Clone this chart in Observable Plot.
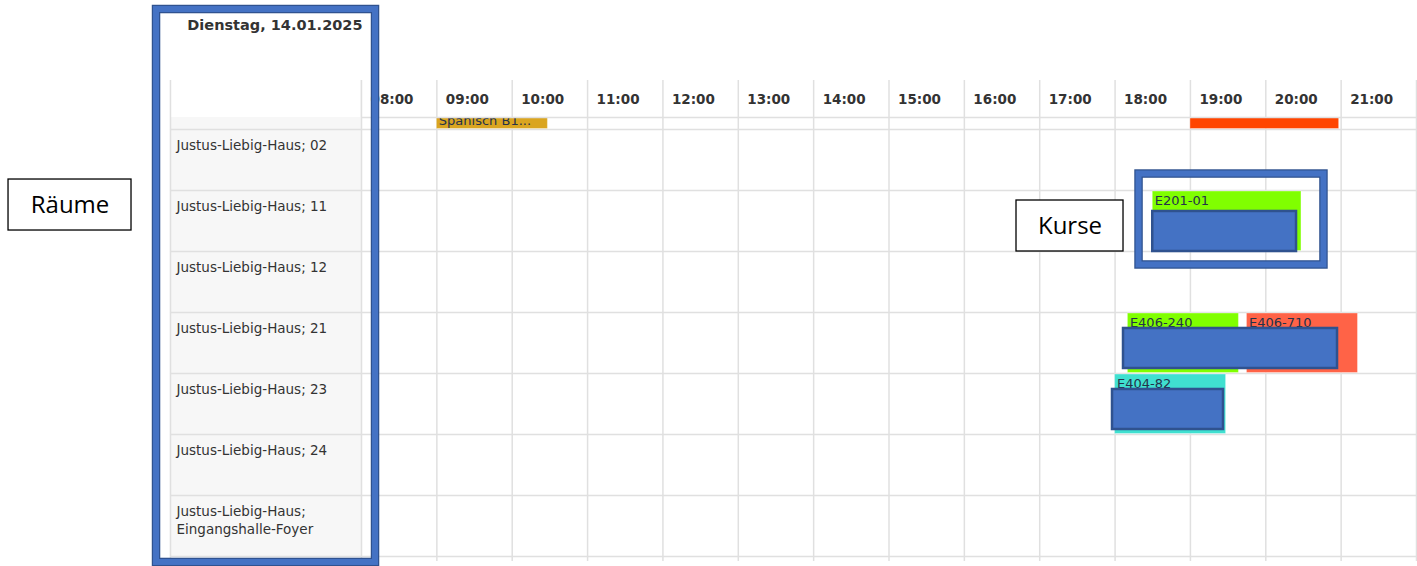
<!DOCTYPE html>
<html>
<head>
<meta charset="utf-8">
<script src="https://cdn.jsdelivr.net/npm/d3@7"></script>
<script src="https://cdn.jsdelivr.net/npm/@observablehq/plot@0.6"></script>
<style>
  html, body { margin: 0; padding: 0; background: #ffffff; }
  #chart { width: 1417px; height: 566px; overflow: hidden; }
</style>
</head>
<body>
<div id="chart"></div>
<script>
// ---- data ----
const dateTitle = "Dienstag, 14.01.2025";
const hourTicks = [8, 9, 10, 11, 12, 13, 14, 15, 16, 17, 18, 19, 20, 21];
const hourLabels = ["08:00", "09:00", "10:00", "11:00", "12:00", "13:00", "14:00",
                    "15:00", "16:00", "17:00", "18:00", "19:00", "20:00", "21:00"];
const hourEnd = 22;
const rooms = [
  "Justus-Liebig-Haus; 02",
  "Justus-Liebig-Haus; 11",
  "Justus-Liebig-Haus; 12",
  "Justus-Liebig-Haus; 21",
  "Justus-Liebig-Haus; 23",
  "Justus-Liebig-Haus; 24",
  "Justus-Liebig-Haus;\nEingangshalle-Foyer"
];
// courses (row -1 = room scrolled out above the view)
const courseNames = ["Spanisch B1...", "", "E201-01", "E406-240", "E406-710", "E404-82"];
const courseRow   = [-1, -1, 1, 3, 3, 4];
const courseStart = [9, 19, 18.5, 18.17, 19.75, 18.0];
const courseEnd   = [10.5, 21, 20.5, 19.67, 21.25, 19.5];
const courseColor = ["#daa520", "#ff4500", "#80ff00", "#80ff00", "#ff6347", "#40e0d0"];

// annotation overlays (hours / rows)
const coverX1 = [18.50, 18.112, 17.966];
const coverX2 = [20.408, 20.952, 19.439];
const coverY1 = [1.344, 3.262, 4.262];
const coverY2 = [2.0, 3.918, 4.918];
const frameX1 = [5.280, 18.318];
const frameX2 = [8.186, 20.772];
const frameY1 = [-1.967, 0.730];
const frameY2 = [7.098, 2.221];
const boxLabels = ["Räume", "Kurse"];
const boxX1 = [3.316, 16.692];
const boxX2 = [4.948, 18.112];
const boxY1 = [0.820, 1.164];
const boxY2 = [1.656, 2.0];

// layout of table (hours / rows)
const labelColLeft = 5.465;
const headerTop = -0.803;
const headerLine = -0.197;
const gridBottom = 7.08;

// ---- tables ----
const courses = courseNames.map((name, i) => ({
  name, row: courseRow[i], start: courseStart[i], end: courseEnd[i], color: courseColor[i]
}));
const roomTable = rooms.map((name, i) => ({name, row: i}));
const hourTable = hourTicks.map((h, i) => ({h, label: hourLabels[i]}));
const hourLines = [...hourTicks, hourEnd];
const rowLines = d3.range(rooms.length + 1);
const covers = coverX1.map((_, i) => ({x1: coverX1[i], x2: coverX2[i], y1: coverY1[i], y2: coverY2[i]}));
const frames = frameX1.map((_, i) => ({x1: frameX1[i], x2: frameX2[i], y1: frameY1[i], y2: frameY2[i]}));
const boxes = boxLabels.map((label, i) => ({label, x1: boxX1[i], x2: boxX2[i], y1: boxY1[i], y2: boxY2[i]}));

const gridColor = "#e0e0e0";
const textColor = "#333333";
const courseText = "#25324a";

const chart = Plot.plot({
  width: 1417,
  height: 566,
  margin: 0,
  x: {type: "linear", domain: [hourTicks[0], hourEnd], range: [361, 1416], axis: null},
  y: {type: "linear", domain: [0, rooms.length], range: [129, 556], axis: null},
  style: {background: "#ffffff", fontFamily: "'DejaVu Sans', Verdana, sans-serif"},
  marks: [
    // room column background
    Plot.rect([0], {x1: labelColLeft, x2: hourTicks[0], y1: headerLine, y2: rooms.length, fill: "#f7f7f7"}),
    // grid (below the course bars)
    Plot.ruleX(hourLines, {y1: headerTop, y2: gridBottom, stroke: gridColor, strokeWidth: 1.5}),
    Plot.ruleX([labelColLeft], {y1: headerTop, y2: gridBottom, stroke: gridColor, strokeWidth: 1.5}),
    Plot.ruleY(rowLines, {x1: labelColLeft, x2: hourEnd, stroke: gridColor, strokeWidth: 1.5}),
    // course bars
    Plot.rect(courses, {x1: "start", x2: "end", y1: "row", y2: d => d.row + 1,
      fill: "color", insetTop: 1, insetBottom: 0.5, insetRight: 2,
      stroke: "#ffffff", strokeOpacity: 0.35, strokeWidth: 1}),
    Plot.text(courses.filter(d => d.row >= 0), {x: "start", y: "row", text: "name",
      textAnchor: "start", lineAnchor: "top", dx: 2, dy: 5.5,
      fontSize: 13, fill: courseText}),
    Plot.text(courses.filter(d => d.row < 0), {x: "start", y: d => d.row + 1, text: "name",
      textAnchor: "start", lineAnchor: "bottom", dx: 2, dy: -5,
      fontSize: 13, fill: courseText}),
    // header mask over scrolled row
    Plot.rect([0], {x1: hourTicks[0], x2: hourEnd, y1: -2.5, y2: headerLine, fill: "#ffffff"}),
    Plot.ruleX(hourLines, {y1: headerTop, y2: headerLine, stroke: gridColor, strokeWidth: 1.5}),
    Plot.ruleY([headerLine], {x1: hourTicks[0], x2: hourEnd, stroke: gridColor, strokeWidth: 1.5}),
    // header texts
    Plot.text(hourTable, {x: "h", y: -0.41, text: "label", textAnchor: "start", lineAnchor: "bottom",
      dx: 9, fontSize: 13.5, fontWeight: "bold", fill: textColor}),
    Plot.text([dateTitle], {x: hourTicks[0], y: -1.623, text: d => d, textAnchor: "end", lineAnchor: "bottom",
      dx: 1, fontSize: 14.5, fontWeight: "bold", fill: textColor}),
    // room labels
    Plot.text(roomTable, {x: labelColLeft, y: "row", text: "name", textAnchor: "start", lineAnchor: "top",
      dx: 6, dy: 7.5, fontSize: 13.5, lineHeight: 1.36, fill: textColor}),
    // annotation overlays
    Plot.rect(covers, {x1: "x1", x2: "x2", y1: "y1", y2: "y2", fill: "#4472c4", stroke: "#2f528f", strokeWidth: 2.5}),
    Plot.rect(frames, {x1: "x1", x2: "x2", y1: "y1", y2: "y2", fill: "none", stroke: "#2f528f", strokeWidth: 8.5}),
    Plot.rect(frames, {x1: "x1", x2: "x2", y1: "y1", y2: "y2", fill: "none", stroke: "#4472c4", strokeWidth: 6}),
    Plot.rect(boxes, {x1: "x1", x2: "x2", y1: "y1", y2: "y2", fill: "#ffffff", stroke: "#000000", strokeWidth: 1.3}),
    Plot.text(boxes, {x: d => (d.x1 + d.x2) / 2, y: d => (d.y1 + d.y2) / 2, text: "label",
      fontFamily: "'Open Sans', sans-serif", fontSize: 24, fill: "#000000"})
  ]
});
document.getElementById("chart").appendChild(chart);
</script>
</body>
</html>
